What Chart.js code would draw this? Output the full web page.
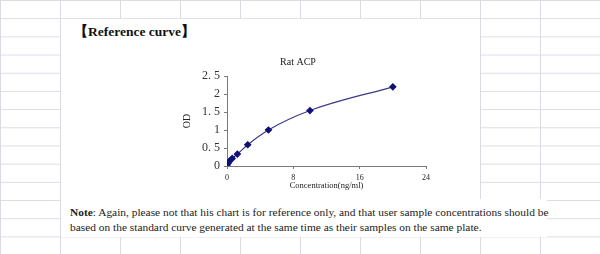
<!DOCTYPE html>
<html lang="en">
<head>
    <meta charset="UTF-8" />
    <title>Rat ACP - Reference curve</title>
    <script src="https://cdn.jsdelivr.net/npm/chart.js"></script>
    <style>
        body {
            margin: 0;
            width: 600px;
            height: 254px;
            overflow: hidden;
            position: relative;
            background-color: #fff;
            background-image:
                linear-gradient(to right, #d9dce3 1px, transparent 1px),
                linear-gradient(to bottom, #d9dce3 1px, transparent 1px);
            background-size: 60px 18.2px;
            font-family: "Liberation Serif", "Times New Roman", serif;
        }
        .sheet { position: absolute; background: #fff; }
        #heading {
            position: absolute; left: 74px; top: 23px;
            font-size: 13.5px; font-weight: bold; color: #111;
        }
        #note {
            position: absolute; left: 70px; top: 205px;
            font-size: 11.4px; line-height: 15px; color: #222;
        }
        #chartBox { position: absolute; left: 170px; top: 50px; }
    </style>
</head>
<body>
    <div class="sheet" style="left:61px;top:19px;width:419px;height:182px;"></div>
    <div class="sheet" style="left:61px;top:199px;width:486px;height:38px;"></div>
    <div id="heading">【Reference curve】</div>
    <div id="chartBox"><canvas id="curve" width="270" height="150"></canvas></div>
    <div id="note"><b>Note</b>: Again, please not that his chart is for reference only, and that user sample concentrations should be<br>based on the standard curve generated at the same time as their samples on the same plate.</div>

    <script>
        // standard curve
        const concentration = [0, 0.156, 0.312, 0.625, 1.25, 2.5, 5, 10, 20];
        const od = [0.02, 0.08, 0.14, 0.21, 0.33, 0.59, 1.0, 1.54, 2.2];
        const xTicks = [0, 8, 16, 24];
        const yTickLabels = ['0', '0. 5', '1', '1. 5', '2', '2. 5'];

        const serif = "'Liberation Serif', 'Times New Roman', serif";
        const axisColor = '#7a7a7a';

        new Chart(document.getElementById('curve'), {
            type: 'line',
            data: {
                datasets: [{
                    data: concentration.map((c, i) => ({ x: c, y: od[i] })),
                    borderColor: '#3a3a88',
                    borderWidth: 1.2,
                    backgroundColor: '#10107a',
                    pointBackgroundColor: '#10107a',
                    pointBorderColor: '#10107a',
                    pointStyle: 'rectRot',
                    pointRadius: 3,
                    cubicInterpolationMode: 'monotone',
                    fill: false
                }]
            },
            options: {
                responsive: false,
                animation: false,
                layout: { padding: { left: 0, right: 14, top: 0, bottom: 0 } },
                plugins: {
                    legend: { display: false },
                    tooltip: { enabled: false },
                    title: {
                        display: true,
                        text: 'Rat ACP',
                        color: '#222',
                        font: { family: serif, size: 10, weight: 'normal' },
                        padding: { top: 6, bottom: 8 }
                    }
                },
                scales: {
                    x: {
                        type: 'linear',
                        min: 0,
                        max: 24,
                        afterBuildTicks: s => { s.ticks = xTicks.map(v => ({ value: v })); },
                        afterFit: s => { s.height = 34; },
                        border: { color: axisColor, width: 1 },
                        grid: { drawOnChartArea: false, drawTicks: true, tickLength: 3, color: axisColor },
                        ticks: { color: '#222', padding: 4, maxRotation: 0, font: { family: serif, size: 8 } },
                        title: {
                            display: true,
                            text: 'Concentration(ng/ml)',
                            color: '#222',
                            font: { family: serif, size: 8.5 },
                            padding: { top: 0, bottom: 9 }
                        }
                    },
                    y: {
                        min: 0,
                        max: 2.5,
                        afterBuildTicks: s => { s.ticks = yTickLabels.map((t, i) => ({ value: i * 0.5 })); },
                        afterFit: s => { s.width = 57; },
                        border: { color: axisColor, width: 1 },
                        grid: { drawOnChartArea: false, drawTicks: true, tickLength: 3, color: axisColor },
                        ticks: {
                            color: '#333',
                            padding: 4,
                            font: { family: serif, size: 12 },
                            callback: (v, i) => yTickLabels[i]
                        },
                        title: {
                            display: true,
                            text: 'OD',
                            color: '#222',
                            font: { family: serif, size: 10 },
                            padding: { top: 11, bottom: 0 }
                        }
                    }
                }
            }
        });
    </script>
</body>
</html>
